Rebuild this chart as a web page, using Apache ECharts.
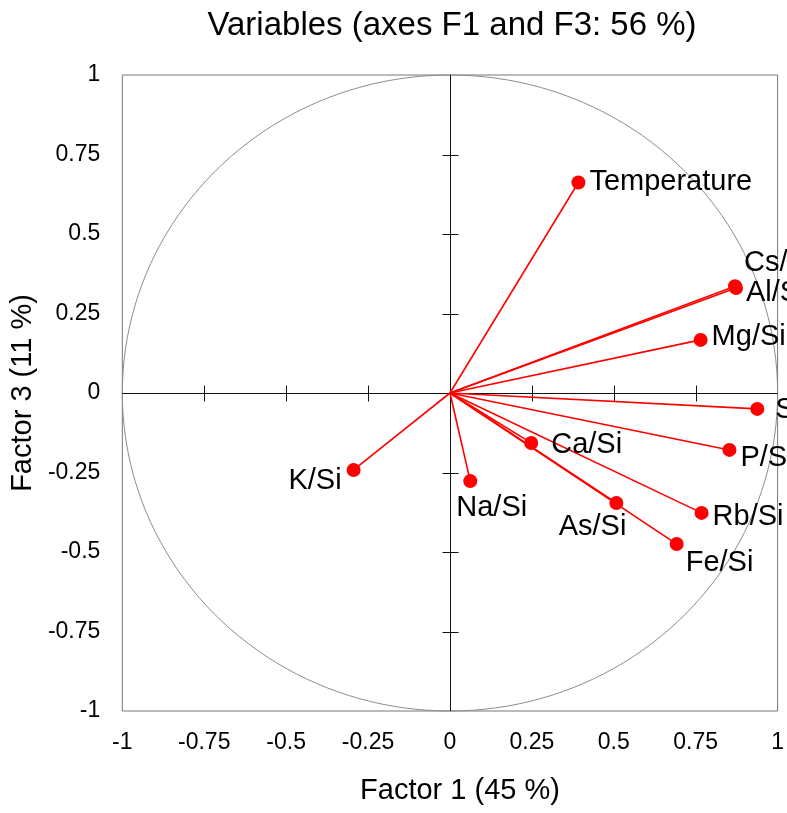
<!DOCTYPE html>
<html>
<head>
<meta charset="utf-8">
<script src="https://cdn.jsdelivr.net/npm/echarts@6/dist/echarts.min.js"></script>
<style>
  html, body { margin: 0; padding: 0; background: #fff; }
  #chart { width: 787px; height: 813px; }
</style>
</head>
<body>
<div id="chart"></div>
<script>
// loadings
var variables = ['Temperature', 'Cs/Si', 'Al/Si', 'Mg/Si', 'Sr/Si', 'P/Si', 'Rb/Si', 'Fe/Si', 'As/Si', 'Ca/Si', 'Na/Si', 'K/Si'];
var factor1 = [0.392, 0.870, 0.873, 0.765, 0.938, 0.853, 0.768, 0.692, 0.508, 0.248, 0.062, -0.294];
var factor3 = [0.662, 0.336, 0.330, 0.167, -0.050, -0.179, -0.377, -0.475, -0.346, -0.157, -0.277, -0.242];
var tickValues = [-0.75, -0.5, -0.25, 0.25, 0.5, 0.75];

// where each name sits next to its dot
var labelPlace = {
  'Temperature': ['right', 0, 0],
  'Cs/Si': ['right', -2, -23],
  'Al/Si': ['right', -1, 5],
  'Mg/Si': ['right', 0, -3],
  'Sr/Si': ['right', 7, 1],
  'P/Si': ['right', 0, 8],
  'Rb/Si': ['right', 0, 4],
  'Fe/Si': ['right', -2, 19],
  'As/Si': ['left', 21, 24],
  'Ca/Si': ['right', 9, 2],
  'Na/Si': ['right', -25, 27],
  'K/Si': ['left', -1, 11]
};

var font = 'Liberation Sans, Arial, sans-serif';

var points = variables.map(function (name, i) {
  var p = labelPlace[name];
  return {
    name: name,
    value: [factor1[i], factor3[i]],
    label: { position: p[0], offset: [p[1], p[2]] }
  };
});

var chart = echarts.init(document.getElementById('chart'));

function crisp(v) { return Math.round(v) + 0.5; }

var option = {
  animation: false,
  title: {
    text: 'Variables (axes F1 and F3: 56 %)',
    left: 447,
    textAlign: 'center',
    top: 4,
    textStyle: { fontFamily: font, fontSize: 33, fontWeight: 'normal', color: '#000' }
  },
  grid: {
    left: 122, top: 75, width: 658, height: 636,
    show: true, borderColor: '#777', borderWidth: 1
  },
  xAxis: {
    type: 'value', min: -1, max: 1, interval: 0.25,
    name: 'Factor 1 (45 %)', nameLocation: 'middle', nameGap: 65,
    nameTextStyle: { fontFamily: font, fontSize: 29, color: '#000', padding: [0, 0, 0, 20] },
    axisLine: { show: false, onZero: false },
    axisTick: { show: false },
    splitLine: { show: false },
    axisLabel: { fontFamily: font, fontSize: 23, color: '#000', margin: 20 }
  },
  yAxis: {
    type: 'value', min: -1, max: 1, interval: 0.25,
    name: 'Factor 3 (11 %)', nameLocation: 'middle', nameGap: 80,
    nameTextStyle: { fontFamily: font, fontSize: 29, color: '#000' },
    axisLine: { show: false, onZero: false },
    axisTick: { show: false },
    splitLine: { show: false },
    axisLabel: { fontFamily: font, fontSize: 23, color: '#000', margin: 22 }
  },
  series: [
    {
      // correlation circle, zero lines and their ticks
      type: 'custom',
      silent: true,
      data: [[0, 0]],
      renderItem: function (params, api) {
        var c = api.coord([0, 0]);
        var rx = api.coord([1, 0])[0] - c[0];
        var ry = c[1] - api.coord([0, 1])[1];
        var pts = [];
        for (var a = 0; a <= 360; a += 2) {
          var t = a * Math.PI / 180;
          pts.push([c[0] + rx * Math.cos(t), c[1] + ry * Math.sin(t)]);
        }
        var kids = [{
          type: 'polyline', shape: { points: pts },
          style: { stroke: '#8c8c8c', lineWidth: 1, fill: null }
        }];
        var l = api.coord([-1, 0]), r = api.coord([1, 0]);
        var t1 = api.coord([0, 1]), b1 = api.coord([0, -1]);
        var zx = crisp(c[0]), zy = crisp(c[1]);
        var ink = { stroke: '#111', lineWidth: 1 };
        kids.push({ type: 'line', shape: { x1: l[0], y1: zy, x2: r[0], y2: zy }, style: ink });
        kids.push({ type: 'line', shape: { x1: zx, y1: t1[1], x2: zx, y2: b1[1] }, style: ink });
        tickValues.forEach(function (v) {
          var px = crisp(api.coord([v, 0])[0]);
          kids.push({ type: 'line', shape: { x1: px, y1: zy - 8, x2: px, y2: zy + 8 }, style: ink });
          var py = crisp(api.coord([0, v])[1]);
          kids.push({ type: 'line', shape: { x1: zx - 8, y1: py, x2: zx + 8, y2: py }, style: ink });
        });
        return { type: 'group', children: kids };
      },
      z: 1
    },
    {
      // vectors from the origin
      type: 'custom',
      silent: true,
      data: variables.map(function (n, i) { return [factor1[i], factor3[i]]; }),
      renderItem: function (params, api) {
        var o = api.coord([0, 0]);
        var p = api.coord([api.value(0), api.value(1)]);
        return {
          type: 'line',
          shape: { x1: o[0], y1: o[1], x2: p[0], y2: p[1] },
          style: { stroke: '#ff0000', lineWidth: 1.6 }
        };
      },
      z: 2
    },
    {
      type: 'scatter',
      data: points,
      symbolSize: 14,
      itemStyle: { color: '#ff0000', opacity: 1 },
      label: {
        show: true,
        formatter: '{b}',
        fontFamily: font,
        fontSize: 29,
        color: '#000',
        distance: 4
      },
      z: 3
    }
  ]
};

chart.setOption(option);
</script>
</body>
</html>
